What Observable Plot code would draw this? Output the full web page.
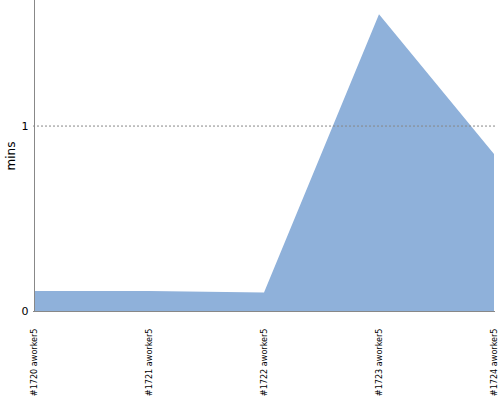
<!DOCTYPE html>
<html><head><meta charset="utf-8">
<script src="https://cdn.jsdelivr.net/npm/d3@7"></script>
<script src="https://cdn.jsdelivr.net/npm/@observablehq/plot@0.6"></script>
<style>body{margin:0;background:#fff}</style>
</head><body><div id="chart"></div>
<script>
const builds = ["#1720 aworker5","#1721 aworker5","#1722 aworker5","#1723 aworker5","#1724 aworker5"];
const mins = [0.108, 0.108, 0.10, 1.60, 0.846];
const yTicks = [0, 1];
const data = builds.map((b,i)=>({build:b, mins:mins[i]}));
const chart = Plot.plot({
  width: 500, height: 400,
  marginLeft: 33, marginRight: 5, marginTop: 0, marginBottom: 89,
  style: {fontFamily: "DejaVu Sans", fontSize: "10px", background: "#fff"},
  x: {type: "point", domain: builds, padding: 0, label: null},
  y: {domain: [0, 1.677], label: "mins", ticks: yTicks},
  marks: [
    Plot.areaY(data, {x: "build", y: "mins", fill: "#8fb1da", curve: "linear"}),
    Plot.ruleY([1], {stroke: "#888", strokeDasharray: "2,2", strokeWidth: 1}),
    Plot.ruleY([0], {stroke: "#888"}),
    Plot.ruleX([builds[0]], {stroke: "#888"}),
    Plot.axisY({ticks: yTicks, tickFormat: "d", tickSize: 0, tickPadding: 5, fontSize: 11, label: "mins", labelAnchor: "center", labelArrow: "none", labelOffset: 27}),
    Plot.axisX({tickSize: 0, tickRotate: -90, tickPadding: 17, fontSize: 9, fontFamily: "Liberation Sans Narrow, DejaVu Sans Condensed, sans-serif", label: null})
  ]
});
chart.querySelectorAll("g[aria-label='y-axis label'] text").forEach(t=>t.style.fontSize="12px");
document.getElementById("chart").appendChild(chart);
</script></body></html>
